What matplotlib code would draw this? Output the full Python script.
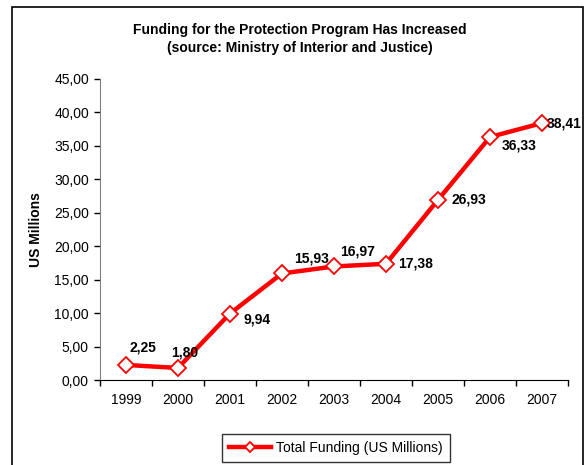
import matplotlib
matplotlib.use("Agg")
import matplotlib.pyplot as plt
from matplotlib.patches import Rectangle
from matplotlib.ticker import MultipleLocator, FuncFormatter

plt.rcParams["font.family"] = ["Liberation Sans", "DejaVu Sans"]

years = ["1999", "2000", "2001", "2002", "2003", "2004", "2005", "2006", "2007"]
funding = [2.25, 1.80, 9.94, 15.93, 16.97, 17.38, 26.93, 36.33, 38.41]
# label offsets in pixels (dx, dy) from each point
label_offsets = [(17, 17), (7, 15), (27, -6), (30, 15), (24, 15),
                 (30, 0), (31, 0), (29, -9), (22, 0)]

W, H = 587, 465
fig = plt.figure(figsize=(W / 100, H / 100), dpi=100)
ax = fig.add_axes([100 / W, (H - 380) / H, 468 / W, 301 / H])

# outer chart frame (bottom runs off the image)
fig.patches.append(Rectangle((12 / W, -0.05), (583 - 12) / W, 1.05 - 7 / H,
                             transform=fig.transFigure, fill=False,
                             edgecolor="black", linewidth=1.2))

xs = list(range(len(years)))
ax.plot(xs, funding, color="#FF0000", linewidth=3.2, marker="D", markersize=8.5,
        markerfacecolor="white", markeredgecolor="#FF0000", markeredgewidth=1.3,
        label="Total Funding (US Millions)", zorder=3)

for x, v, (dx, dy) in zip(xs, funding, label_offsets):
    ax.annotate(f"{v:.2f}".replace(".", ","), (x, v), xytext=(dx, dy),
                textcoords="offset pixels", ha="center", va="center",
                fontsize=10, fontweight="bold", annotation_clip=False)

ax.set_xlim(-0.5, len(years) - 0.5)
ax.set_ylim(0, 45)
ax.yaxis.set_major_locator(MultipleLocator(5))
ax.yaxis.set_major_formatter(FuncFormatter(lambda v, p: f"{v:.2f}".replace(".", ",")))
ax.set_xticks(xs)
ax.set_xticklabels(years)
ax.set_xticks([i - 0.5 for i in range(len(years) + 1)], minor=True)
ax.tick_params(axis="x", which="major", length=0, pad=9, labelsize=10)
ax.tick_params(axis="x", which="minor", length=4, width=1, direction="out")
ax.tick_params(axis="y", length=4, width=1, direction="out", pad=4, labelsize=10)

for s in ["top", "right"]:
    ax.spines[s].set_visible(False)
ax.spines["left"].set_color("#808080")
ax.spines["bottom"].set_color("black")

ax.set_ylabel("US Millions", fontsize=10, fontweight="bold", labelpad=8)

fig.text(300 / W, 1 - 30 / H, "Funding for the Protection Program Has Increased",
         ha="center", va="center", fontsize=10, fontweight="bold")
fig.text(300 / W, 1 - 48 / H, "(source: Ministry of Interior and Justice)",
         ha="center", va="center", fontsize=10, fontweight="bold")

leg = fig.legend(loc="center", bbox_to_anchor=(336 / W, 1 - 448 / H), fontsize=10,
                 frameon=True, fancybox=False, edgecolor="black", borderpad=0.5,
                 handlelength=3.0, handletextpad=0.4, markerscale=0.65)
leg.get_frame().set_linewidth(1.0)

fig.savefig("out.png", dpi=100, facecolor="white")
